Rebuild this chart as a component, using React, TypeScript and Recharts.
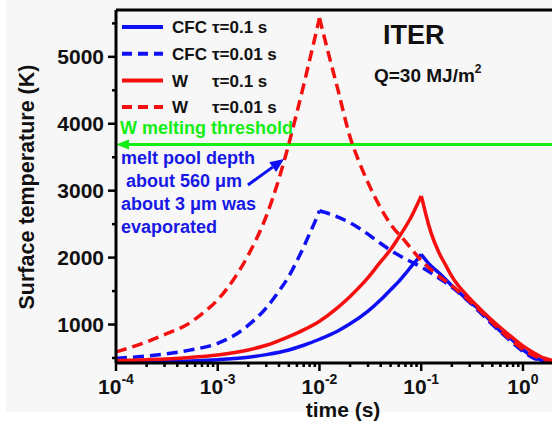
import React from 'react';
import { LineChart, Line, XAxis, YAxis, ReferenceLine } from 'recharts';

// CFC, tau = 0.1 s (blue solid)
const cfcSlowTime = [1e-4, 3e-4, 1e-3, 2e-3, 3e-3, 5e-3, 7e-3, 0.01, 0.015, 0.02, 0.03, 0.04, 0.05, 0.06, 0.07, 0.08, 0.09, 0.1, 0.12, 0.15, 0.2, 0.3, 0.4, 0.5, 0.6, 0.8, 1, 1.24, 1.5, 1.7, 1.93];
const cfcSlowTemp = [440, 445, 475, 510, 550, 620, 690, 780, 900, 1010, 1200, 1370, 1520, 1640, 1760, 1870, 1960, 2050, 1900, 1770, 1580, 1340, 1180, 1020, 900, 760, 620, 527, 470, 450, 440];

// CFC, tau = 0.01 s (blue dashed)
const cfcFastTime = [1e-4, 2e-4, 5e-4, 1e-3, 1.5e-3, 2e-3, 3e-3, 4e-3, 5e-3, 6e-3, 7e-3, 8e-3, 9e-3, 0.01, 0.015, 0.02, 0.03, 0.04, 0.05, 0.07, 0.1, 0.15, 0.2, 0.3, 0.5, 0.7, 1, 1.3, 1.6, 1.93];
const cfcFastTemp = [495, 530, 610, 720, 850, 990, 1250, 1500, 1720, 1950, 2160, 2360, 2530, 2700, 2610, 2520, 2350, 2210, 2110, 1980, 1860, 1690, 1560, 1330, 1000, 800, 600, 490, 455, 440];

// W, tau = 0.1 s (red solid)
const wSlowTime = [1e-4, 2e-4, 5e-4, 1e-3, 2e-3, 3e-3, 5e-3, 7e-3, 0.01, 0.015, 0.02, 0.03, 0.04, 0.05, 0.06, 0.07, 0.08, 0.09, 0.1, 0.105, 0.11, 0.125, 0.15, 0.175, 0.2, 0.3, 0.4, 0.5, 0.7, 1, 1.3, 1.6, 1.93];
const wSlowTemp = [460, 475, 505, 545, 620, 690, 820, 920, 1050, 1250, 1420, 1700, 1940, 2120, 2300, 2460, 2610, 2770, 2920, 2800, 2670, 2370, 2070, 1880, 1720, 1390, 1200, 1060, 870, 680, 570, 500, 465];

// W, tau = 0.01 s (red dashed)
const wFastTime = [1e-4, 2e-4, 3e-4, 5e-4, 7e-4, 1e-3, 1.5e-3, 2e-3, 3e-3, 4e-3, 5e-3, 6e-3, 7e-3, 8e-3, 9e-3, 0.01, 0.011, 0.0125, 0.015, 0.02, 0.025, 0.03, 0.04, 0.05, 0.07, 0.1, 0.15, 0.2, 0.3, 0.5, 0.7, 1, 1.3, 1.6, 1.93];
const wFastTemp = [590, 740, 850, 1000, 1160, 1370, 1720, 2040, 2620, 3180, 3700, 4170, 4580, 4950, 5280, 5580, 5330, 5000, 4540, 3800, 3400, 3120, 2740, 2500, 2240, 1960, 1720, 1580, 1350, 1030, 820, 630, 530, 480, 455];

const xDomain = [1e-4, 1.93];
const yDomain = [425, 5700];
const xDecades = [1e-4, 1e-3, 1e-2, 1e-1, 1];
const xMinorSteps = [2, 3, 4, 5, 6, 7, 8, 9];
const yTicks = [500, 1000, 1500, 2000, 2500, 3000, 3500, 4000, 4500, 5000, 5500];

const meltingPoint = 3690;
const arrowTail = { x: 0.00198, y: 3085 };
const arrowHead = { x: 0.00448, y: 3474 };

const legendLabels = [
  ['CFC', 'τ=0.1 s'],
  ['CFC', 'τ=0.01 s'],
  ['W', 'τ=0.1 s'],
  ['W', 'τ=0.01 s'],
];
const annotationLines = ['melt pool depth', ' about 560 μm', 'about 3 μm was', 'evaporated'];

const FONT = '"Liberation Sans", Arial, Helvetica, sans-serif';
const BLUE = '#0f0ff5';
const RED = '#f50f0f';
const GREEN = '#14ee14';
const TEXT_BLUE = '#1818e6';

const legendStyles = [
  { stroke: BLUE, dash: undefined },
  { stroke: BLUE, dash: '10 6' },
  { stroke: RED, dash: undefined },
  { stroke: RED, dash: '10 6' },
];

const xTicks = xDecades.flatMap((d) => [d, ...xMinorSteps.map((m) => d * m)]).filter((t) => t <= xDomain[1]);

// split a curve at its peak so the cusp stays sharp with a smooth interpolation
const splitAtPeak = (time: number[], temp: number[]) => {
  const pts = time.map((t, i) => ({ t, T: temp[i] }));
  const peak = temp.indexOf(Math.max(...temp));
  return [pts.slice(0, peak + 1), pts.slice(peak)];
};

const series = [
  { parts: splitAtPeak(cfcSlowTime, cfcSlowTemp), stroke: BLUE, dash: undefined },
  { parts: splitAtPeak(cfcFastTime, cfcFastTemp), stroke: BLUE, dash: '11 6' },
  { parts: splitAtPeak(wSlowTime, wSlowTemp), stroke: RED, dash: undefined },
  { parts: splitAtPeak(wFastTime, wFastTemp), stroke: RED, dash: '11 6' },
];

const XTick = (props: any) => {
  const { x, y, payload } = props;
  const lg = Math.log10(payload.value);
  const exp = Math.round(lg);
  const major = Math.abs(lg - exp) < 1e-6;
  return (
    <g>
      <line x1={x} y1={y} x2={x} y2={y + (major ? 8 : 4)} stroke="#000" strokeWidth={2.5} />
      {major && (
        <text x={x} y={y + 31} textAnchor="middle" fontSize={21} fontWeight="bold" fill="#111" fontFamily={FONT}>
          10
          <tspan dy={-10} fontSize={14}>
            {exp}
          </tspan>
        </text>
      )}
    </g>
  );
};

const YTick = (props: any) => {
  const { x, y, payload } = props;
  const major = payload.value % 1000 === 0;
  return (
    <g>
      <line x1={x} y1={y} x2={x - (major ? 8 : 4)} y2={y} stroke="#000" strokeWidth={2.5} />
      {major && (
        <text x={x - 12} y={y} dy="0.36em" textAnchor="end" fontSize={21} fontWeight="bold" fill="#111" fontFamily={FONT}>
          {payload.value}
        </text>
      )}
    </g>
  );
};

const ThresholdShape = (p: any) => {
  const left = Math.min(p.x1, p.x2);
  const right = Math.max(p.x1, p.x2);
  return (
    <g>
      <line x1={left + 6} y1={p.y1} x2={right} y2={p.y2} stroke={GREEN} strokeWidth={3} />
      <polygon points={`${left},${p.y1} ${left + 13},${p.y1 - 5} ${left + 13},${p.y1 + 5}`} fill={GREEN} />
    </g>
  );
};

const ArrowShape = (p: any) => {
  const dx = p.x2 - p.x1;
  const dy = p.y2 - p.y1;
  const len = Math.sqrt(dx * dx + dy * dy);
  const ux = dx / len;
  const uy = dy / len;
  const bx = p.x2 - ux * 14;
  const by = p.y2 - uy * 14;
  return (
    <g>
      <line x1={p.x1} y1={p.y1} x2={bx} y2={by} stroke={BLUE} strokeWidth={3} />
      <polygon
        points={`${p.x2},${p.y2} ${bx - uy * 6},${by + ux * 6} ${bx + uy * 6},${by - ux * 6}`}
        fill={BLUE}
      />
    </g>
  );
};

const Annotations = () => (
  <svg width={552} height={421} style={{ position: 'absolute', left: 0, top: 0, pointerEvents: 'none' }} fontFamily={FONT} fontWeight="bold">
    {legendLabels.map((lab, i) => {
      const y = 27 + i * 26.7;
      return (
        <g key={i}>
          <line x1={122} y1={y} x2={163} y2={y} stroke={legendStyles[i].stroke} strokeWidth={4} strokeDasharray={legendStyles[i].dash} />
          <text x={172} y={y} dy="0.36em" fontSize={17} fill="#111">{lab[0]}</text>
          <text x={212} y={y} dy="0.36em" fontSize={17} fill="#111">{lab[1]}</text>
        </g>
      );
    })}
    <text x={383} y={44} fontSize={27} fill="#111">ITER</text>
    <text x={374} y={82} fontSize={19} fill="#111">
      Q=30 MJ/m<tspan dy={-9} fontSize={12}>2</tspan>
    </text>
    <text x={120} y={134} fontSize={18} fill={GREEN}>W melting threshold</text>
    {annotationLines.map((s, i) => (
      <text key={i} x={121} y={164 + i * 23} fontSize={18} fill={TEXT_BLUE} style={{ whiteSpace: 'pre' }}>{s}</text>
    ))}
    <text x={26} y={187} dy="0.36em" fontSize={21.5} fill="#111" textAnchor="middle" transform="rotate(-90 26 187)">
      Surface temperature (K)
    </text>
    <text x={343} y={417} fontSize={21} fill="#111" textAnchor="middle">time (s)</text>
  </svg>
);

export default function App() {
  return (
    <div style={{ position: 'absolute', left: 0, top: 0, width: 552, height: 421, background: '#fff', overflow: 'hidden' }}>
      <div style={{ position: 'absolute', left: 6, top: 0, width: 546, height: 412, background: '#f7f7f7' }} />
      <div style={{ position: 'absolute', left: 0, top: 0 }}>
        <LineChart width={552} height={421} margin={{ top: 10, right: 0, bottom: 0, left: 0 }}>
          <XAxis
            dataKey="t"
            type="number"
            scale="log"
            domain={xDomain}
            allowDataOverflow
            ticks={xTicks}
            interval={0}
            tick={<XTick />}
            tickLine={false}
            tickSize={0}
            tickMargin={0}
            height={58}
            axisLine={{ stroke: '#000', strokeWidth: 3 }}
          />
          <YAxis
            type="number"
            domain={yDomain}
            allowDataOverflow
            ticks={yTicks}
            interval={0}
            tick={<YTick />}
            tickLine={false}
            tickSize={0}
            tickMargin={0}
            width={116}
            axisLine={{ stroke: '#000', strokeWidth: 3 }}
          />
          <ReferenceLine y={yDomain[1]} stroke="#000" strokeWidth={3} />
          <ReferenceLine y={meltingPoint} shape={ThresholdShape} />
          {series.flatMap((s, i) =>
            s.parts.map((part, j) => (
              <Line
                key={`${i}-${j}`}
                data={part}
                dataKey="T"
                type="monotone"
                stroke={s.stroke}
                strokeWidth={3.5}
                strokeDasharray={s.dash}
                dot={false}
                activeDot={false}
                isAnimationActive={false}
              />
            ))
          )}
          <ReferenceLine segment={[arrowTail, arrowHead]} shape={ArrowShape} />
        </LineChart>
      </div>
      <Annotations />
    </div>
  );
}
